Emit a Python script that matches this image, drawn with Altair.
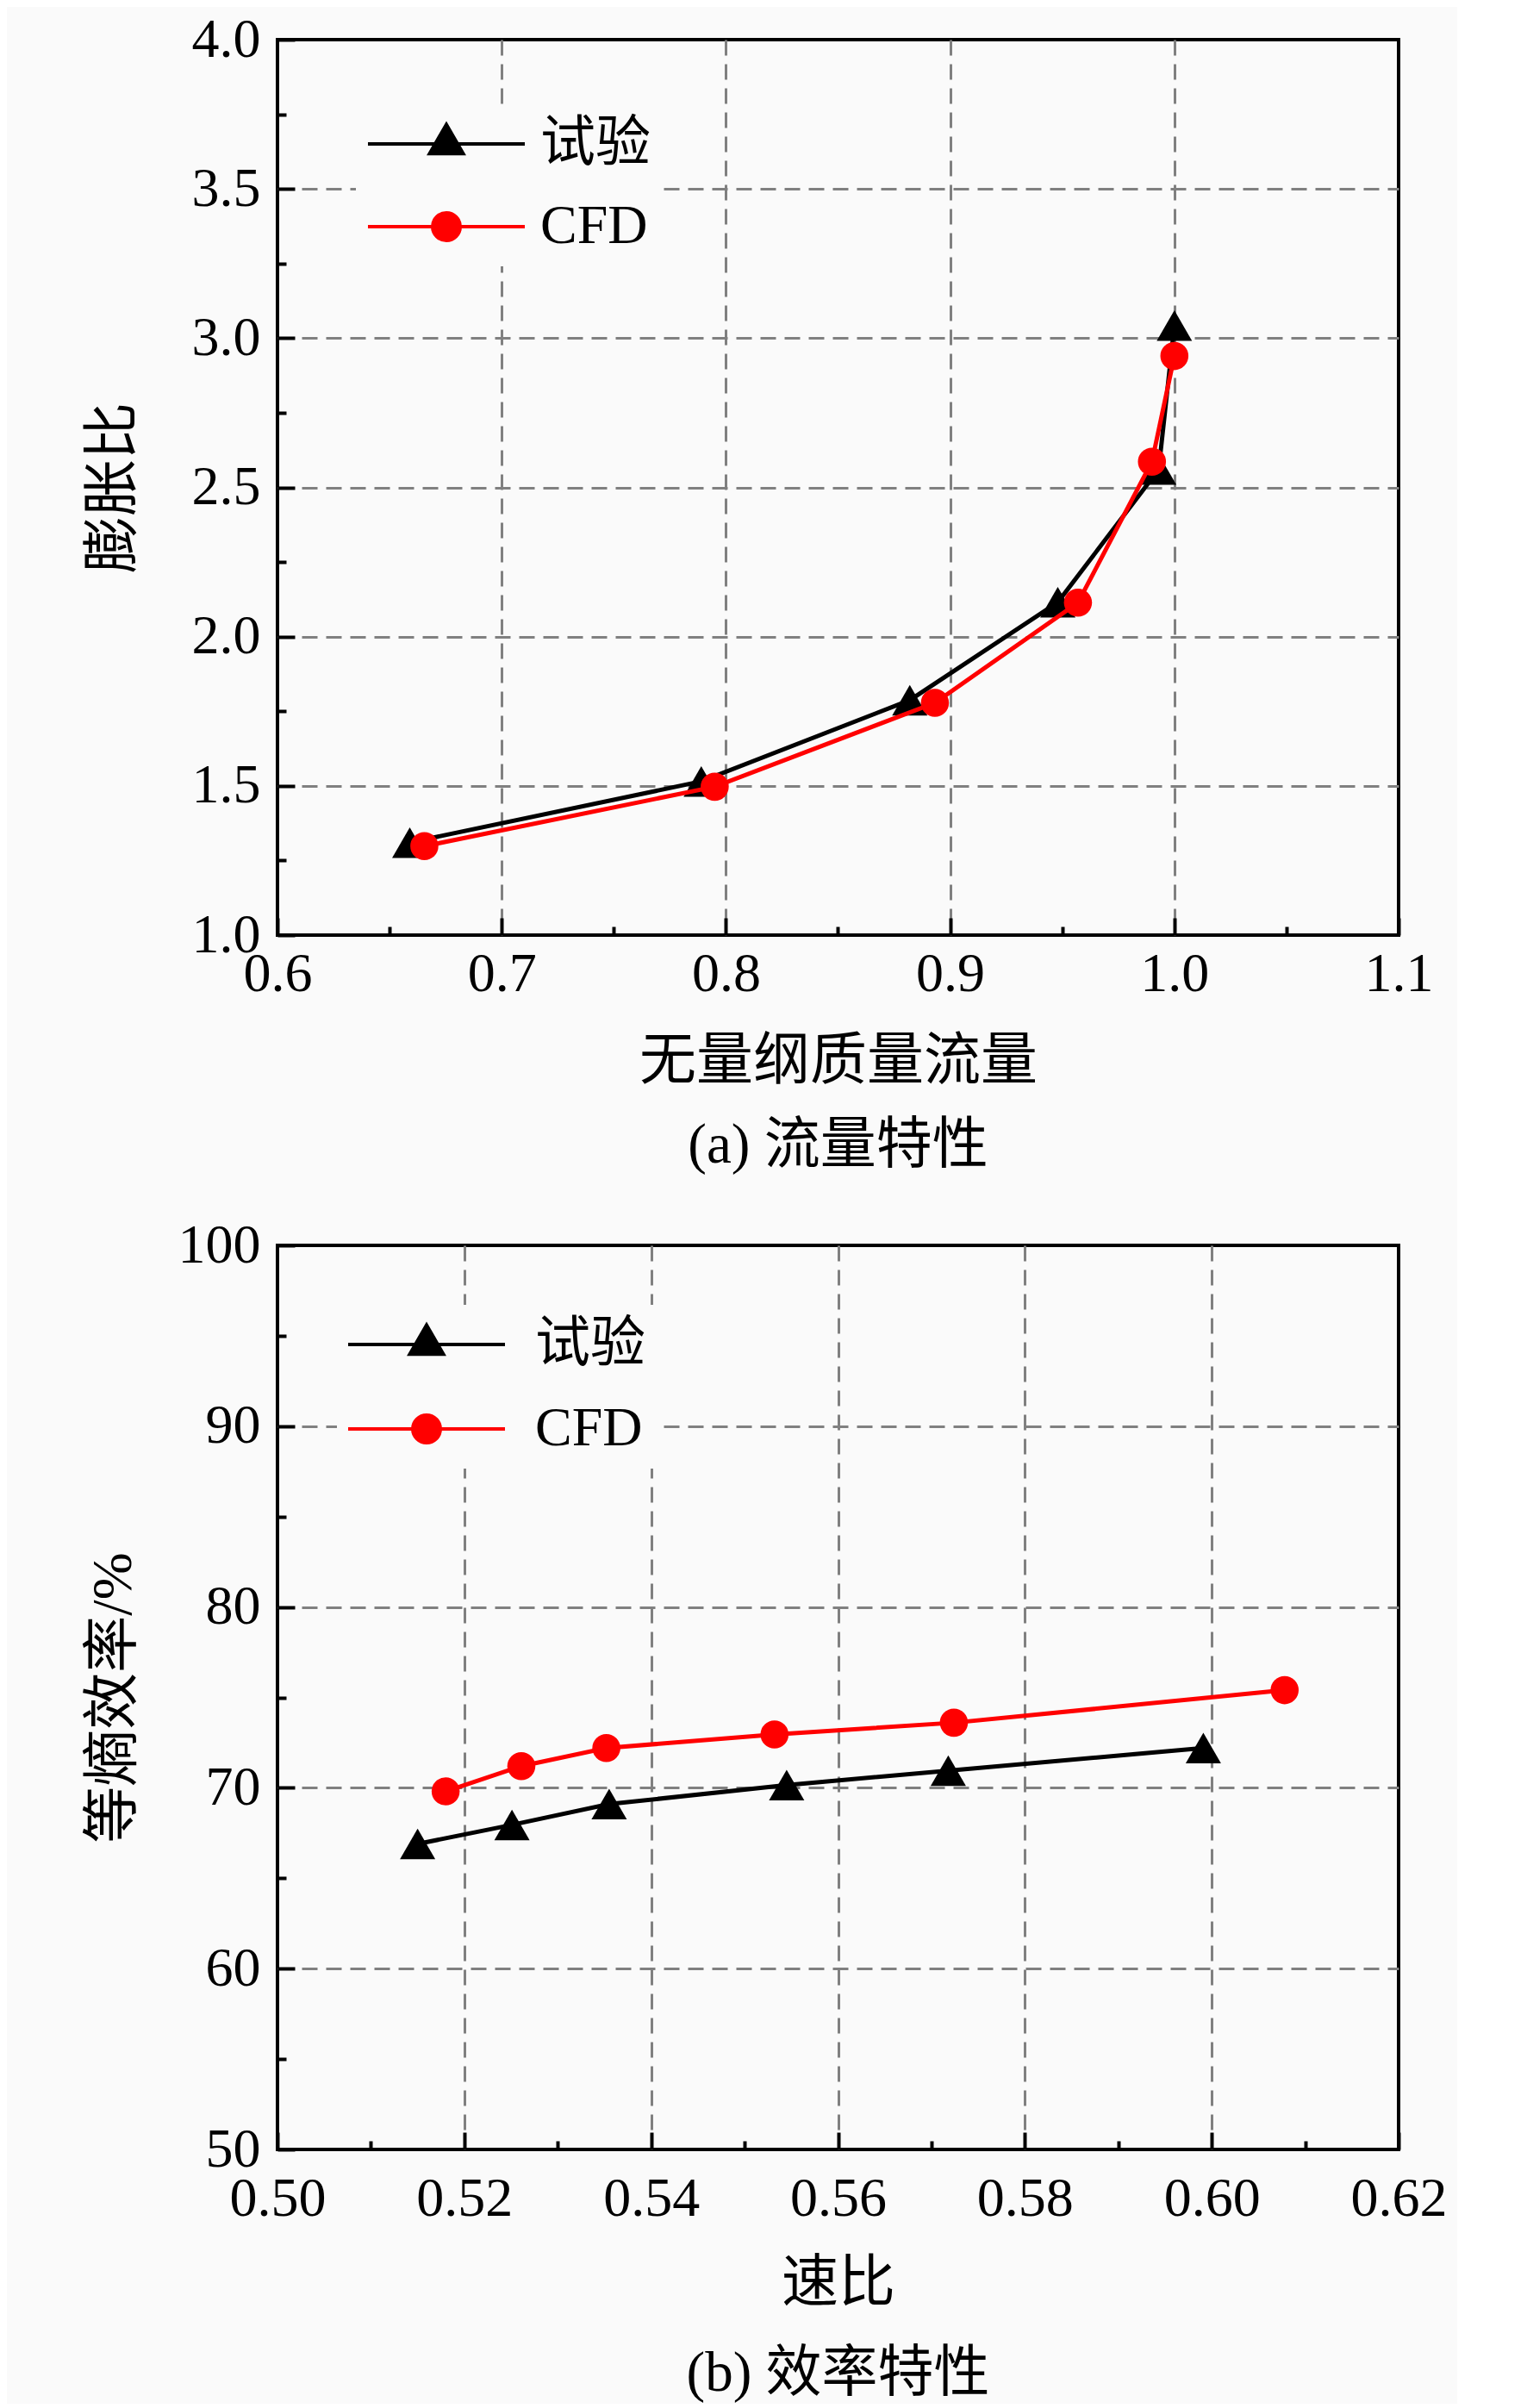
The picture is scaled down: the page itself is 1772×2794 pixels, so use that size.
import altair as alt
import pandas as pd

names = ["试验", "CFD"]
colors = ["#000000", "#ff0000"]

# (a) flow characteristic
a_exp_x = [0.659, 0.789, 0.882, 0.948, 0.993, 1.000]
a_exp_y = [1.31, 1.515, 1.787, 2.115, 2.56, 3.042]
a_cfd_x = [0.6655, 0.795, 0.8932, 0.957, 0.990, 1.000]
a_cfd_y = [1.298, 1.497, 1.778, 2.114, 2.586, 2.94]

# (b) efficiency characteristic
b_exp_x = [0.5150, 0.5251, 0.5355, 0.5545, 0.5718, 0.5991]
b_exp_y = [66.9, 67.95, 69.1, 70.15, 70.95, 72.2]
b_cfd_x = [0.5180, 0.5261, 0.5352, 0.5532, 0.5724, 0.6078]
b_cfd_y = [69.8, 71.2, 72.2, 72.95, 73.6, 75.4]

a_x_ticks = [0.6, 0.65, 0.7, 0.75, 0.8, 0.85, 0.9, 0.95, 1.0, 1.05, 1.1]
a_y_ticks = [1.0, 1.25, 1.5, 1.75, 2.0, 2.25, 2.5, 2.75, 3.0, 3.25, 3.5, 3.75, 4.0]
b_x_ticks = [0.50, 0.51, 0.52, 0.53, 0.54, 0.55, 0.56, 0.57, 0.58, 0.59, 0.60, 0.61, 0.62]
b_y_ticks = [50, 55, 60, 65, 70, 75, 80, 85, 90, 95, 100]

FONT = "Liberation Serif, Noto Sans CJK SC"
BG = "#fafafa"

# legend symbols: line + marker (path units = half the symbol width)
LINE = "M-4.667,0H4.667"
TRI = "M0,-1.155L-1,0.577L1,0.577Z"
CIRC = "M0.82,0A0.82,0.82,0,1,1,-0.82,0A0.82,0.82,0,1,1,0.82,0Z"


def long_df(ex, ey, cx, cy):
    return pd.DataFrame({
        "series": [names[0]] * len(ex) + [names[1]] * len(cx),
        "x": ex + cx,
        "y": ey + cy,
    })


def make_axis(values, minor, lo, hi, fmt, title, label_pad, **kw):
    return alt.Axis(
        values=values,
        labelExpr=f"({minor}) ? '' : format(datum.value, '{fmt}')",
        tickSize=alt.ExprRef(expr="-20"),
        labelPadding=label_pad,
        tickDash={"condition": {"test": minor, "value": [10, 40]}, "value": [40, 0]},
        gridOpacity={"condition": {"test": f"({minor}) || datum.value <= {lo + 1e-9} || datum.value >= {hi - 1e-9}",
                                   "value": 0}, "value": 1},
        title=title,
        **kw,
    )


def panel(df, xdom, ydom, xaxis, yaxis, height, caption, cap_offset, leg_x, leg_y, rowpad, sym_off, lab_off, suffix):
    X = alt.X("x:Q", scale=alt.Scale(domain=xdom, nice=False, zero=False), axis=xaxis)
    Y = alt.Y("y:Q", scale=alt.Scale(domain=ydom, nice=False, zero=False), axis=yaxis)
    exp = alt.Chart(df).transform_filter(alt.datum.series == names[0])
    cfd = alt.Chart(df).transform_filter(alt.datum.series == names[1])
    exp_line = exp.mark_line(strokeWidth=5, color=colors[0]).encode(X, Y)
    cfd_line = cfd.mark_line(strokeWidth=5, color=colors[1]).encode(X, Y)
    tri = exp.mark_point(shape="triangle-up", filled=True, size=1680, color=colors[0], opacity=1).encode(X, Y)
    cir = cfd.mark_point(shape="circle", filled=True, size=1060, color=colors[1], opacity=1).encode(X, Y)
    leg = alt.Legend(orient="none", legendX=leg_x, legendY=leg_y, title=None, padding=14,
                     rowPadding=rowpad, symbolOffset=sym_off, labelOffset=lab_off,
                     symbolSize=1521, symbolStrokeWidth=4, symbolOpacity=1,
                     labelFont=FONT, labelFontSize=64, labelColor="black", labelLimit=600,
                     labelExpr=f"datum.label + '{suffix}'", fillColor=BG)
    dummy = alt.Chart(df).mark_point(filled=True, size=1521, opacity=0).encode(
        X, Y,
        fill=alt.Fill("series:N", scale=alt.Scale(domain=names, range=colors), legend=leg),
        stroke=alt.Stroke("series:N", scale=alt.Scale(domain=names, range=colors), legend=leg),
        shape=alt.Shape("series:N", scale=alt.Scale(domain=names, range=[LINE + TRI, LINE + CIRC]), legend=leg),
    )
    return alt.layer(exp_line, tri, cfd_line, cir, dummy).properties(
        width=1301, height=height,
        title=alt.TitleParams(caption, orient="bottom", offset=cap_offset, fontSize=65, font=FONT,
                              fontWeight="normal", color="black", anchor="middle"),
    )


top = panel(
    long_df(a_exp_x, a_exp_y, a_cfd_x, a_cfd_y), [0.6, 1.1], [1.0, 4.0],
    make_axis(a_x_ticks, "round(datum.value*20) % 2 == 1", 0.6, 1.1, ".1f", "无量纲质量流量", 33, titleY=114),
    make_axis(a_y_ticks, "round(datum.value*4) % 2 == 1", 1.0, 4.0, ".1f", "膨胀比", 40, titleX=-157),
    1039, "(a) 流量特性", 34, 91, 75, 32, 59, 77, "  ",
)

bottom = panel(
    long_df(b_exp_x, b_exp_y, b_cfd_x, b_cfd_y), [0.50, 0.62], [50, 100],
    make_axis(b_x_ticks, "round(datum.value*100) % 2 == 1", 0.50, 0.62, ".2f", "速比", 45, titleY=123),
    make_axis(b_y_ticks, "round(datum.value/5) % 2 == 1", 50, 100, "d", "等熵效率/%", 40, titleX=-157),
    1049, "(b) 效率特性", 41, 69, 69, 34, 58, 94, " ",
)

chart = alt.vconcat(top, bottom, spacing=360, bounds="flush").resolve_scale(
    fill="independent", stroke="independent", shape="independent"
).resolve_legend(
    fill="independent", stroke="independent", shape="independent"
).properties(
    padding={"left": 88, "top": 4, "right": 10, "bottom": 0},
    background=BG,
).configure_view(stroke="black", strokeWidth=4).configure_axis(
    domain=False, labelFont="Liberation Serif", labelFontSize=64, labelColor="black",
    titleFont=FONT, titleFontSize=66, titleFontWeight="normal", titleColor="black",
    gridColor="#808080", gridWidth=3, gridDash=[18, 10], tickColor="black", tickWidth=4,
    labelOverlap=False, labelFlush=False,
)

chart.save("out.html", embed_options={"renderer": "svg", "actions": False})
